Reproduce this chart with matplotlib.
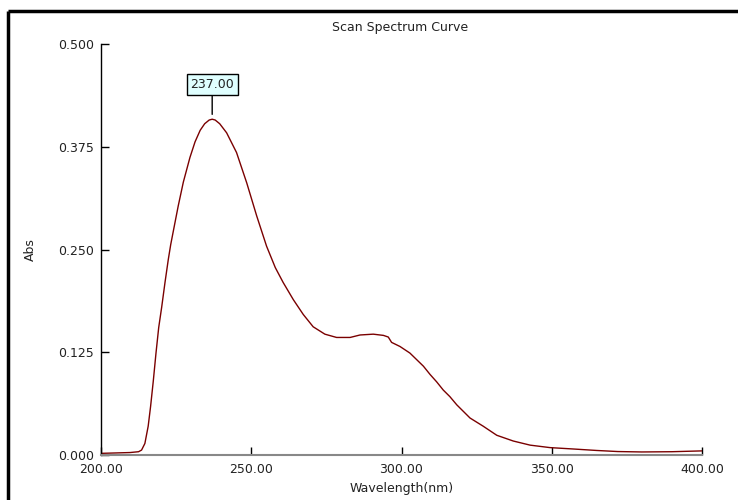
import matplotlib
matplotlib.use("Agg")
import matplotlib.pyplot as plt
from matplotlib.lines import Line2D

title = "Scan Spectrum Curve"
xlabel = "Wavelength(nm)"
ylabel = "Abs"
peak_label = "237.00"
peak_wl = 237.0
peak_abs = 0.4085

xticks = [200, 250, 300, 350, 400]
xticklabels = ["200.00", "250.00", "300.00", "350.00", "400.00"]
yticks = [0.0, 0.125, 0.25, 0.375, 0.5]
yticklabels = ["0.000", "0.125", "0.250", "0.375", "0.500"]

wavelength = [200.0, 205.0, 209.7, 212.5, 213.5, 214.6, 215.7, 216.5, 217.4, 218.3,
              219.2, 220.2, 221.3, 222.4, 223.2, 224.1, 225.7, 227.4, 229.6, 231.3,
              233.0, 234.5, 236.0, 237.0, 238.0, 239.5, 241.8, 245.1, 248.5, 251.8,
              255.1, 258.0, 260.6, 264.0, 267.3, 270.6, 274.5, 278.4, 282.9, 286.2,
              290.6, 294.0, 295.6, 296.7, 299.5, 302.8, 307.3, 309.5, 311.7, 313.9,
              316.1, 318.4, 322.8, 327.2, 331.7, 337.2, 342.8, 349.4, 357.2, 365.0,
              372.0, 380.0, 390.0, 400.0]
absorbance = [0.002, 0.0025, 0.003, 0.004, 0.006, 0.014, 0.035, 0.059, 0.090, 0.124,
              0.155, 0.180, 0.210, 0.238, 0.256, 0.273, 0.303, 0.332, 0.362, 0.381,
              0.395, 0.403, 0.4075, 0.4085, 0.4075, 0.403, 0.392, 0.368, 0.331, 0.291,
              0.254, 0.228, 0.210, 0.189, 0.171, 0.156, 0.147, 0.143, 0.143, 0.146,
              0.147, 0.1455, 0.1435, 0.137, 0.132, 0.124, 0.108, 0.098, 0.089, 0.079,
              0.071, 0.061, 0.045, 0.035, 0.024, 0.017, 0.012, 0.009, 0.0073, 0.0055,
              0.0042, 0.0037, 0.004, 0.005]

plt.rcParams['font.family'] = ['DejaVu Sans']
fig = plt.figure(figsize=(7.38, 5.0), dpi=100)
fig.patch.set_facecolor("white")
ax = fig.add_axes([101/738, 45/500, 601/738, 411/500])

ax.plot(wavelength, absorbance, color="#7a0000", lw=1.0)
ax.set_xlim(200, 400)
ax.set_ylim(0, 0.5)

ax.set_xticks(xticks)
ax.set_xticklabels(xticklabels)
ax.set_yticks(yticks)
ax.set_yticklabels(yticklabels)
ax.tick_params(axis="both", direction="in", length=6, width=1, colors="black",
               labelsize=9, labelcolor="#222222")
ax.tick_params(axis="x", pad=6)
ax.tick_params(axis="y", pad=5)

for s in ["top", "right"]:
    ax.spines[s].set_visible(False)
ax.spines["left"].set_color("black")
ax.spines["left"].set_linewidth(1)
ax.spines["bottom"].set_color("#888888")
ax.spines["bottom"].set_linewidth(1.5)

ax.set_xlabel(xlabel, fontsize=9, color="#222222", labelpad=4)
ax.set_ylabel(ylabel, fontsize=9, color="#222222", labelpad=15)
fig.text(400/738, 1 - 28/500, title, ha="center", va="center", fontsize=9, color="#222222")

ax.annotate(peak_label, xy=(peak_wl, peak_abs), xytext=(0, 25), textcoords="offset points",
            ha="center", va="center", fontsize=9, color="#222222",
            bbox=dict(boxstyle="square,pad=0.3", fc="#dfffff", ec="black", lw=1),
            arrowprops=dict(arrowstyle="-", color="black", lw=1, shrinkA=0, shrinkB=3.5))

# window frame
fig.add_artist(Line2D([8/738, 8/738], [0, 1 - 11/500], transform=fig.transFigure,
                      color="black", lw=2.5, solid_capstyle="butt"))
fig.add_artist(Line2D([8/738, 1], [1 - 11/500, 1 - 11/500], transform=fig.transFigure,
                      color="black", lw=2.5, solid_capstyle="butt"))

fig.savefig("out.png", dpi=100)
